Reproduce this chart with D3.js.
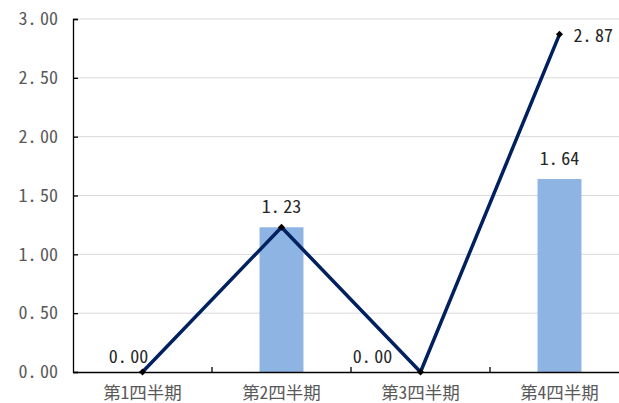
<!DOCTYPE html>
<html><head><meta charset="utf-8">
<script src="https://cdn.jsdelivr.net/npm/d3@7"></script>
<style>
html,body{margin:0;padding:0;background:#fff;overflow:hidden}
text{font-family:"Noto Sans Mono CJK JP","Noto Sans CJK JP","DejaVu Sans Mono",monospace}
</style></head>
<body><svg id="c" width="619" height="403"></svg>
<script>
const categories = ["第1四半期","第2四半期","第3四半期","第4四半期"];
const barValues = [0, 1.23, 0, 1.64];
const lineValues = [0, 1.23, 0, 2.87];
const yTicks = [0, 0.5, 1.0, 1.5, 2.0, 2.5, 3.0];
const labels = [
  {i:0, v:0.00, dx:-14, dy:-9, anchor:"middle"},
  {i:1, v:1.23, dx:0, dy:-14, anchor:"middle"},
  {i:2, v:0.00, dx:-48, dy:-9, anchor:"middle"},
  {i:3, v:1.64, dx:0, dy:-14, anchor:"middle"},
  {i:3, v:2.87, dx:14, dy:8, anchor:"start"}
];

const fmt = d3.format(".2f");
function wideNum(sel) {
  sel.each(function(d) {
    const s = fmt(typeof d === "number" ? d : d.v).split(".");
    const t = d3.select(this).text(null);
    t.append("tspan").text(s[0] + ".");
    t.append("tspan").attr("dx", 3.5).text(s[1]);
  });
}

const svg = d3.select("#c");
const mL = 73, mR = 629, mT = 19, mB = 372;
const x = d3.scaleBand().domain(categories).range([mL, mR]).padding(0);
const y = d3.scaleLinear().domain([0, 3]).range([mB, mT]);
const bw = x.bandwidth();
const barW = bw * 0.316;
const cx = c => x(c) + bw / 2;

svg.append("g").selectAll("line").data(yTicks.filter(d => d > 0)).join("line")
  .attr("x1", mL).attr("x2", 619)
  .attr("y1", d => y(d)).attr("y2", d => y(d))
  .attr("stroke", "#d9d9d9").attr("stroke-width", 1);

svg.append("g").selectAll("rect").data(barValues).join("rect")
  .attr("x", (d, i) => cx(categories[i]) - barW / 2)
  .attr("width", barW)
  .attr("y", d => y(d))
  .attr("height", d => y(0) - y(d))
  .attr("fill", "#8eb4e3");

const yAxis = d3.axisLeft(y).tickValues(yTicks).tickSize(-5).tickPadding(15)
  .tickFormat(fmt);
const gy = svg.append("g").attr("transform", `translate(${mL},0)`).call(yAxis);
gy.select(".domain").attr("stroke", "#000").attr("stroke-width", 1.3);
gy.selectAll(".tick line").attr("stroke", "#000").attr("stroke-width", 1.3);
gy.selectAll(".tick text").attr("fill", "#595959").style("font-size", "18px")
  .style("font-weight", "300").call(wideNum);

const xAxis = d3.axisBottom(x).tickSize(0).tickPadding(0);
const gx = svg.append("g").attr("transform", `translate(0,${mB})`).call(xAxis);
gx.select(".domain").attr("stroke", "#000").attr("stroke-width", 1.3);
gx.selectAll(".tick text").attr("fill", "#595959").style("font-size", "17.5px")
  .attr("dy", null).attr("y", 27);
svg.append("g").selectAll("line").data(categories.slice(1)).join("line")
  .attr("x1", d => x(d)).attr("x2", d => x(d))
  .attr("y1", mB).attr("y2", mB - 5)
  .attr("stroke", "#000").attr("stroke-width", 1.3);

const line = d3.line().x((d, i) => cx(categories[i])).y(d => y(d));
svg.append("path").datum(lineValues).attr("d", line)
  .attr("fill", "none").attr("stroke", "#002060").attr("stroke-width", 3.5)
  .attr("stroke-linejoin", "round");

svg.append("g").selectAll("path").data(lineValues).join("path")
  .attr("d", d3.symbol().type(d3.symbolSquare).size(25))
  .attr("transform", (d, i) => `translate(${cx(categories[i])},${y(d)}) rotate(45)`)
  .attr("fill", "#000");

svg.append("g").selectAll("text").data(labels).join("text")
  .attr("x", d => cx(categories[d.i]) + d.dx)
  .attr("y", d => y(d.v) + d.dy)
  .attr("text-anchor", d => d.anchor)
  .attr("fill", "#262626").style("font-size", "18px").style("font-weight", "300")
  .call(wideNum);
</script></body></html>
